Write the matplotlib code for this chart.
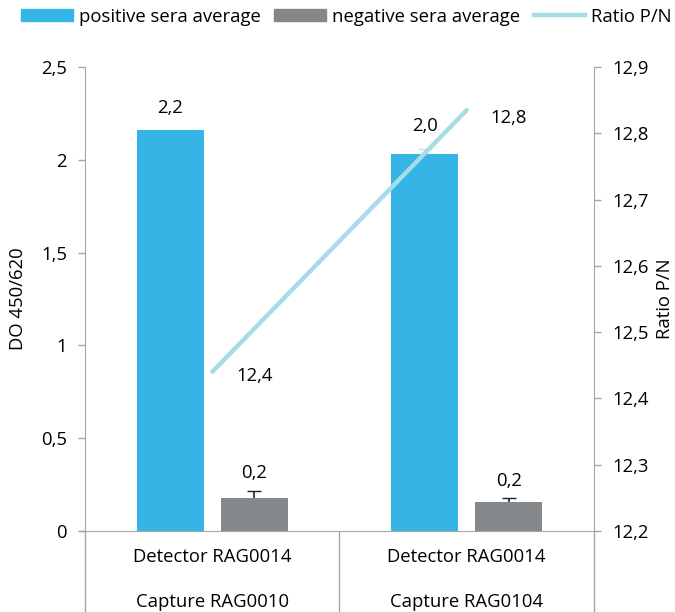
import matplotlib
matplotlib.use('Agg')
import matplotlib.pyplot as plt
import numpy as np
from matplotlib.ticker import FuncFormatter
from matplotlib.patches import Patch
from matplotlib.lines import Line2D

plt.rcParams['font.family'] = ['Open Sans', 'DejaVu Sans']
FS = 13.3

# data
groups_top = ['Detector RAG0014', 'Detector RAG0014']
groups_bottom = ['Capture RAG0010', 'Capture RAG0104']
positive = [2.16, 2.03]
negative = [0.178, 0.156]
positive_err = [0.0, 0.03]
negative_err = [0.04, 0.02]
ratio = [12.44, 12.835]
positive_labels = ['2,2', '2,0']
negative_labels = ['0,2', '0,2']
ratio_labels = ['12,4', '12,8']

c_pos = '#35b5e5'
c_neg = '#85888b'
c_ratio = '#a8dbe8'
c_axis = '#a6a6a6'

fig = plt.figure(figsize=(6.75, 6.12), dpi=100)
ax = fig.add_axes([0.1259, 0.1324, 0.88 - 0.1259, 0.8905 - 0.1324])
ax2 = ax.twinx()

x = np.arange(len(positive))
w = 0.262
off = 0.165

# error bars drawn under the bars so only the upper half shows
ax.errorbar(x[1:] - off, positive[1:], yerr=positive_err[1:], fmt='none',
            ecolor='#c9dde2', elinewidth=1, capsize=5, zorder=1)
ax.errorbar(x + off, negative, yerr=negative_err, fmt='none',
            ecolor='#222222', elinewidth=1.2, capsize=5, zorder=1)
ax.bar(x - off, positive, w, color=c_pos, zorder=2)
ax.bar(x + off, negative, w, color=c_neg, zorder=2)

for i in range(len(x)):
    ax.text(x[i] - off, positive[i] + positive_err[i] + 0.12, positive_labels[i],
            ha='center', va='center', fontsize=FS)
    ax.text(x[i] + off, negative[i] + negative_err[i] + 0.095, negative_labels[i],
            ha='center', va='center', fontsize=FS)

ax.set_xlim(-0.5, 1.5)
ax.set_ylim(0, 2.5)
ax.set_yticks([0, 0.5, 1, 1.5, 2, 2.5])
ax.yaxis.set_major_formatter(FuncFormatter(lambda v, p: ('%g' % v).replace('.', ',')))
ax.set_xticks([])
ax.set_ylabel('DO 450/620', fontsize=FS, labelpad=10)

ax2.plot(x, ratio, color=c_ratio, lw=3.2, solid_capstyle='round', zorder=4)
ax2.set_ylim(12.2, 12.9)
ax2.set_yticks(np.round(np.arange(12.2, 12.91, 0.1), 1))
ax2.yaxis.set_major_formatter(FuncFormatter(lambda v, p: ('%.1f' % v).replace('.', ',')))
ax2.set_ylabel('Ratio P/N', fontsize=FS, labelpad=5)
ax2.text(x[0] + off, ratio[0] - 0.006, ratio_labels[0], ha='center', va='center', fontsize=FS)
ax2.text(x[1] + off, ratio[1] - 0.012, ratio_labels[1], ha='center', va='center', fontsize=FS)

for a in (ax, ax2):
    a.spines['top'].set_visible(False)
    a.tick_params(colors=c_axis, labelcolor='black', length=5, width=1, labelsize=FS)
ax.tick_params(axis='y', pad=8)
ax2.tick_params(axis='y', pad=8)
ax.spines['left'].set_color(c_axis)
ax.spines['bottom'].set_color(c_axis)
ax.spines['right'].set_visible(False)
ax2.spines['left'].set_visible(False)
ax2.spines['bottom'].set_visible(False)
ax2.spines['right'].set_color(c_axis)

# category separators and two-line labels below the axis
for xs in [-0.5, 0.5, 1.5]:
    ax.plot([xs, xs], [0, -0.2], color=c_axis, lw=1, clip_on=False,
            transform=ax.get_xaxis_transform())
ax.plot([-0.52, -0.5], [0, 0], color=c_axis, lw=1, clip_on=False,
        transform=ax.get_xaxis_transform())
for i in range(len(x)):
    ax.text(x[i], -0.056, groups_top[i], ha='center', va='center', fontsize=FS,
            transform=ax.get_xaxis_transform())
    ax.text(x[i], -0.153, groups_bottom[i], ha='center', va='center', fontsize=FS,
            transform=ax.get_xaxis_transform())

handles = [Patch(color=c_pos), Patch(color=c_neg), Line2D([], [], color=c_ratio, lw=3.2)]
fig.legend(handles, ['positive sera average', 'negative sera average', 'Ratio P/N'],
           loc='center', bbox_to_anchor=(0.513, 0.973), ncol=3, frameon=False,
           fontsize=FS, handlelength=2.8, handleheight=0.65, columnspacing=0.75,
           handletextpad=0.3, borderpad=0)

plt.savefig('out.png', dpi=100)
